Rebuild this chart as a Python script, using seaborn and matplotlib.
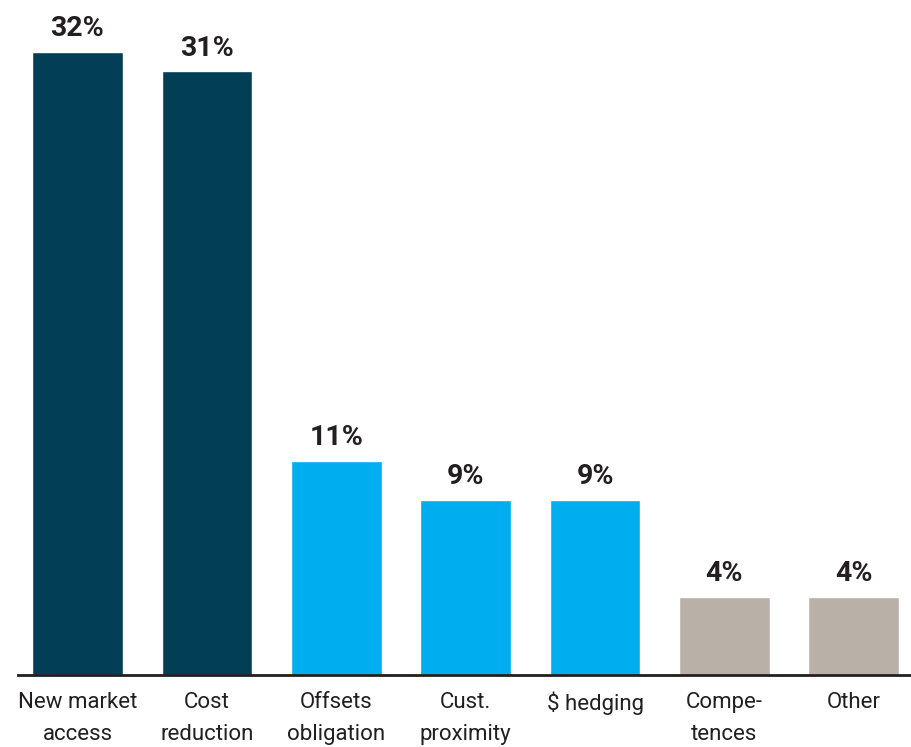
import matplotlib
matplotlib.use("Agg")
import matplotlib.pyplot as plt
import seaborn as sns
import pandas as pd

categories = ["New market\naccess", "Cost\nreduction", "Offsets\nobligation",
              "Cust.\nproximity", "$ hedging", "Compe-\ntences", "Other"]
shares = [32, 31, 11, 9, 9, 4, 4]
value_labels = ["32%", "31%", "11%", "9%", "9%", "4%", "4%"]
bar_colors = ["#023F57", "#023F57", "#00AEEF", "#00AEEF", "#00AEEF", "#B9B0A7", "#B9B0A7"]

sns.set_theme(style="white")
plt.rcParams["font.family"] = ["Roboto", "DejaVu Sans"]

df = pd.DataFrame({"category": categories, "share": shares})

fig = plt.figure(figsize=(9.12, 7.47), dpi=100)
ax = fig.add_axes([0.0197, 0.0964, 0.9803, 0.9036])

sns.barplot(data=df, x="category", y="share", hue="category",
            palette=bar_colors, width=0.7, legend=False, ax=ax,
            saturation=1)

for i, (v, lab) in enumerate(zip(shares, value_labels)):
    ax.annotate(lab, (i, v), xytext=(0, 7), textcoords="offset points",
                ha="center", va="bottom", fontsize=20.5, fontweight="bold",
                color="#231F20")

ax.set_xlim(-0.46, 6.45)
ax.set_ylim(0, 34.67)
ax.set_xlabel("")
ax.set_ylabel("")
ax.set_yticks([])
for side in ["top", "right", "left"]:
    ax.spines[side].set_visible(False)
ax.spines["bottom"].set_color("#231F20")
ax.spines["bottom"].set_linewidth(2)
ax.tick_params(axis="x", length=0, pad=12, labelsize=16, labelcolor="#231F20")
for t in ax.get_xticklabels():
    t.set_linespacing(1.68)
    t.set_verticalalignment("top")

fig.savefig("out.png", dpi=100)
